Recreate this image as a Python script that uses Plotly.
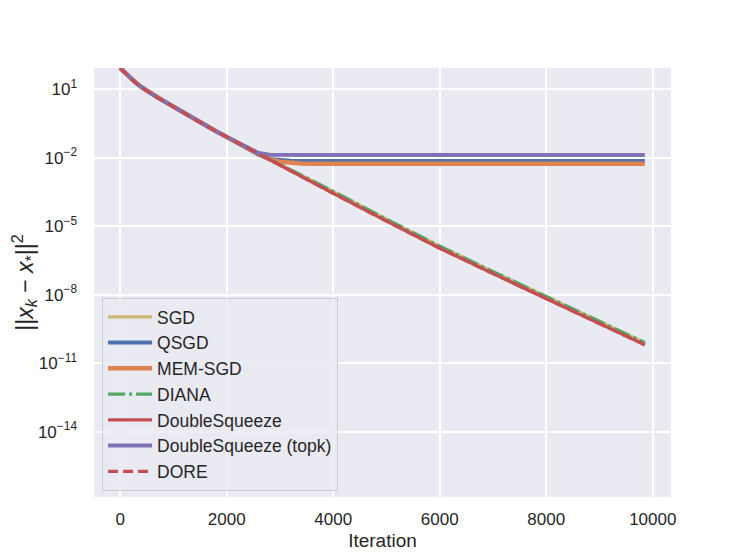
import plotly.graph_objects as go

# iteration grid (shared by all methods)
iterations = [0, 100, 200, 300, 400, 500, 600, 700, 800, 900, 1000, 1200, 1400, 1600, 1800,
              2000, 2200, 2400, 2600, 2800, 3000, 3200, 3400, 3600, 4000, 5000, 6000, 7000,
              8000, 9000, 9850]

# ||x_k - x_*||^2
sgd = [83.2, 47.9, 28.8, 18.2, 12.0, 8.32, 5.89, 4.27, 3.16, 2.29, 1.66, 0.871, 0.457, 0.251,
       0.141, 0.0794, 0.0447, 0.0251, 0.0141, 0.00832, 0.00501, 0.00295, 0.00174, 0.00100,
       3.31e-4, 2.00e-5, 1.32e-6, 1.02e-7, 8.32e-9, 6.92e-10, 7.94e-11]
qsgd = [83.2, 47.9, 28.8, 18.2, 12.0, 8.32, 5.89, 4.27, 3.16, 2.29, 1.66, 0.871, 0.457, 0.251,
        0.141, 0.0794, 0.0447, 0.0251, 0.0135, 0.00871, 0.00759, 0.00724, 0.00708, 0.00708,
        0.00708, 0.00708, 0.00708, 0.00708, 0.00708, 0.00708, 0.00708]
mem_sgd = [83.2, 47.9, 28.8, 18.2, 12.0, 8.32, 5.89, 4.27, 3.16, 2.29, 1.66, 0.871, 0.457, 0.251,
           0.141, 0.0794, 0.0447, 0.0251, 0.0138, 0.00851, 0.00661, 0.00575, 0.00550, 0.00537,
           0.00537, 0.00537, 0.00537, 0.00537, 0.00537, 0.00537, 0.00537]
diana = [83.2, 47.9, 28.8, 18.2, 12.0, 8.32, 5.89, 4.27, 3.16, 2.29, 1.66, 0.871, 0.457, 0.251,
         0.141, 0.0794, 0.0447, 0.0251, 0.0141, 0.00832, 0.00501, 0.00295, 0.00174, 0.00100,
         3.31e-4, 2.00e-5, 1.32e-6, 1.02e-7, 8.32e-9, 6.92e-10, 7.94e-11]
double_squeeze = [83.2, 47.9, 28.8, 18.2, 12.0, 8.32, 5.89, 4.27, 3.16, 2.29, 1.66, 0.871, 0.457,
                  0.251, 0.141, 0.0794, 0.0447, 0.0251, 0.0141, 0.00832, 0.00447, 0.00257,
                  0.00148, 8.51e-4, 2.69e-4, 1.66e-5, 1.07e-6, 8.32e-8, 6.61e-9, 5.37e-10,
                  6.31e-11]
double_squeeze_topk = [83.2, 47.9, 28.8, 18.2, 12.0, 8.32, 5.89, 4.27, 3.16, 2.29, 1.66, 0.871,
                       0.457, 0.251, 0.141, 0.0794, 0.0447, 0.0257, 0.0158, 0.0132, 0.0129,
                       0.0129, 0.0129, 0.0129, 0.0129, 0.0129, 0.0129, 0.0129, 0.0129, 0.0129,
                       0.0129]
dore = [83.2, 47.9, 28.8, 18.2, 12.0, 8.32, 5.89, 4.27, 3.16, 2.29, 1.66, 0.871, 0.457, 0.251,
        0.141, 0.0794, 0.0447, 0.0251, 0.0141, 0.00832, 0.00447, 0.00257, 0.00148, 8.51e-4,
        2.69e-4, 1.66e-5, 1.07e-6, 8.32e-8, 6.61e-9, 5.37e-10, 6.31e-11]

y_tickvals = [1e1, 1e-2, 1e-5, 1e-8, 1e-11, 1e-14]
y_ticktext = ["10<sup>1</sup>", "10<sup>−2</sup>", "10<sup>−5</sup>", "10<sup>−8</sup>",
              "10<sup>−11</sup>", "10<sup>−14</sup>"]
x_tickvals = [0, 2000, 4000, 6000, 8000, 10000]
x_ticktext = ["0", "2000", "4000", "6000", "8000", "10000"]

series = [
    ("SGD", sgd, "#ccb974", 3.2, "solid"),
    ("QSGD", qsgd, "#4c72b0", 4, "solid"),
    ("MEM-SGD", mem_sgd, "#dd8452", 4.5, "solid"),
    ("DIANA", diana, "#55a868", 3.2, "17px,4px,3px,4px"),
    ("DoubleSqueeze", double_squeeze, "#c44e52", 3.2, "solid"),
    ("DoubleSqueeze (topk)", double_squeeze_topk, "#8172b3", 4, "solid"),
    ("DORE", dore, "#c44e52", 3.2, "10px,5px"),
]

fig = go.Figure()
for name, vals, color, width, dash in series:
    fig.add_trace(go.Scatter(
        x=iterations, y=vals, mode="lines", name=name,
        line=dict(color=color, width=width, dash=dash),
    ))

# the page body adds an 8px offset, so the figure is 8px smaller on each axis
fig.update_layout(
    width=739, height=552,
    margin=dict(l=86, r=76, t=60, b=63),
    paper_bgcolor="white",
    plot_bgcolor="#eaeaf2",
    font=dict(family="Liberation Sans, Arial, sans-serif", size=17, color="#262626"),
    legend=dict(
        x=0.014, y=0.014, xanchor="left", yanchor="bottom",
        bgcolor="rgba(234,234,242,0.8)", bordercolor="#cccccc", borderwidth=1,
        font=dict(size=17.5), traceorder="normal", itemwidth=44,
    ),
    showlegend=True,
)
fig.update_xaxes(
    range=[-492, 10342], tickvals=x_tickvals, ticktext=x_ticktext,
    showgrid=True, gridcolor="white", gridwidth=1.6, zeroline=False,
    ticks="", ticklabelstandoff=10, automargin=False,
    title=dict(text="Iteration", font=dict(size=19), standoff=5),
)
fig.update_yaxes(
    type="log", range=[-16.86, 1.92],
    tickvals=y_tickvals, ticktext=y_ticktext,
    showgrid=True, gridcolor="white", gridwidth=1.6, zeroline=False,
    ticks="", ticklabelstandoff=16, automargin=False,
    title=dict(text="||<i>x</i><sub><i>k</i></sub> − <i>x</i><sub>*</sub>||<sup>2</sup>",
               font=dict(size=23), standoff=8),
)

fig.write_html("out.html")
